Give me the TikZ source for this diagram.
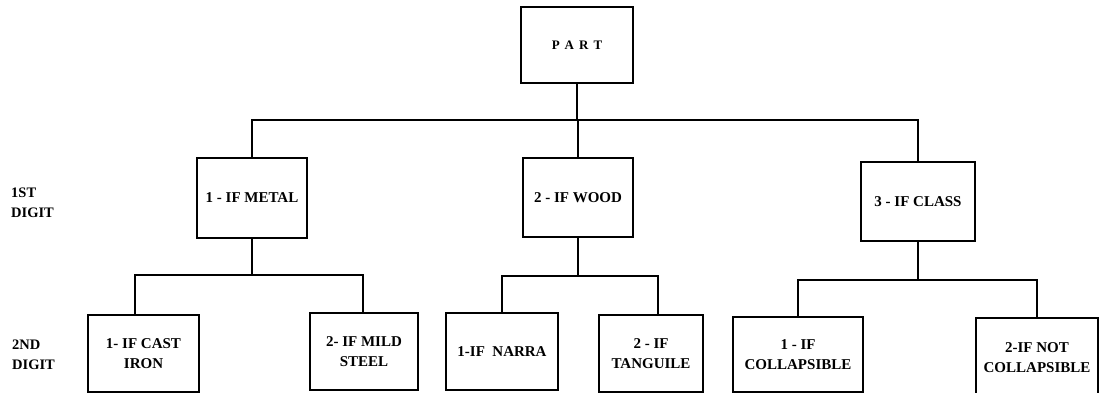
\documentclass[tikz,border=0pt]{standalone}
\usepackage{fontspec}
\setmainfont{Liberation Serif}
\begin{document}
\begin{tikzpicture}[x=1pt,y=-1pt,
  box/.style={draw,line width=1.6pt,align=center,inner sep=0pt,font=\fontsize{15}{20}\selectfont\bfseries},
  conn/.style={line width=1.6pt},
  lbl/.style={anchor=west,align=left,inner sep=0pt,font=\fontsize{14.5}{20}\selectfont\bfseries}]
\useasboundingbox (0,0) rectangle (1103,393);
% level 0
\node[box,minimum width=112pt,minimum height=76pt] (part) at (577,45) {\fontsize{13}{16}\selectfont P\hspace{5pt}A\hspace{5pt}R\hspace{5pt}T};
% level 1
\node[box,minimum width=110pt,minimum height=80pt] (metal) at (252,198) {1 - IF METAL};
\node[box,minimum width=110pt,minimum height=79pt] (wood) at (578,197.5) {2 - IF WOOD};
\node[box,minimum width=114pt,minimum height=79pt] (class) at (918,201.5) {3 - IF CLASS};
% level 2
\node[box,minimum width=111pt,minimum height=77pt] (cast) at (143.5,353.5) {1- IF CAST\\IRON};
\node[box,minimum width=108pt,minimum height=77pt] (mild) at (364,351.5) {2- IF MILD\\STEEL};
\node[box,minimum width=112pt,minimum height=77pt] (narra) at (502,351.5) {1-IF~~NARRA};
\node[box,minimum width=104pt,minimum height=77pt] (tang) at (651,353.5) {2 - IF\\TANGUILE};
\node[box,minimum width=130pt,minimum height=75pt] (coll) at (798,354.5) {1 - IF\\COLLAPSIBLE};
\node[box,minimum width=122pt,minimum height=80pt] (ncoll) at (1037,358) {2-IF NOT\\COLLAPSIBLE};
% side labels
\node[lbl] (d1) at (11,203) {1ST\\DIGIT};
\node[lbl] (d2) at (12,355) {2ND\\DIGIT};
% connectors
\coordinate (b0) at (577,120);
\draw[conn] (part.south) -- (b0);
\draw[conn] (b0) -| (metal.north);
\draw[conn] (b0) -| (wood.north);
\draw[conn] (b0) -| (class.north);
\coordinate (b1l) at (135,275);
\coordinate (b1r) at (363,275);
\draw[conn] (metal.south) -- (metal.south |- b1l);
\draw[conn] (b1l |- cast.north) -- (b1l) -- (b1r) -- (b1r |- mild.north);
\coordinate (b2l) at (502,276);
\coordinate (b2r) at (658,276);
\draw[conn] (wood.south) -- (wood.south |- b2l);
\draw[conn] (narra.north) -- (b2l) -- (b2r) -- (b2r |- tang.north);
\coordinate (b3l) at (798,280);
\coordinate (b3r) at (1037,280);
\draw[conn] (class.south) -- (class.south |- b3l);
\draw[conn] (coll.north) -- (b3l) -- (b3r) -- (ncoll.north);
\end{tikzpicture}
\end{document}
